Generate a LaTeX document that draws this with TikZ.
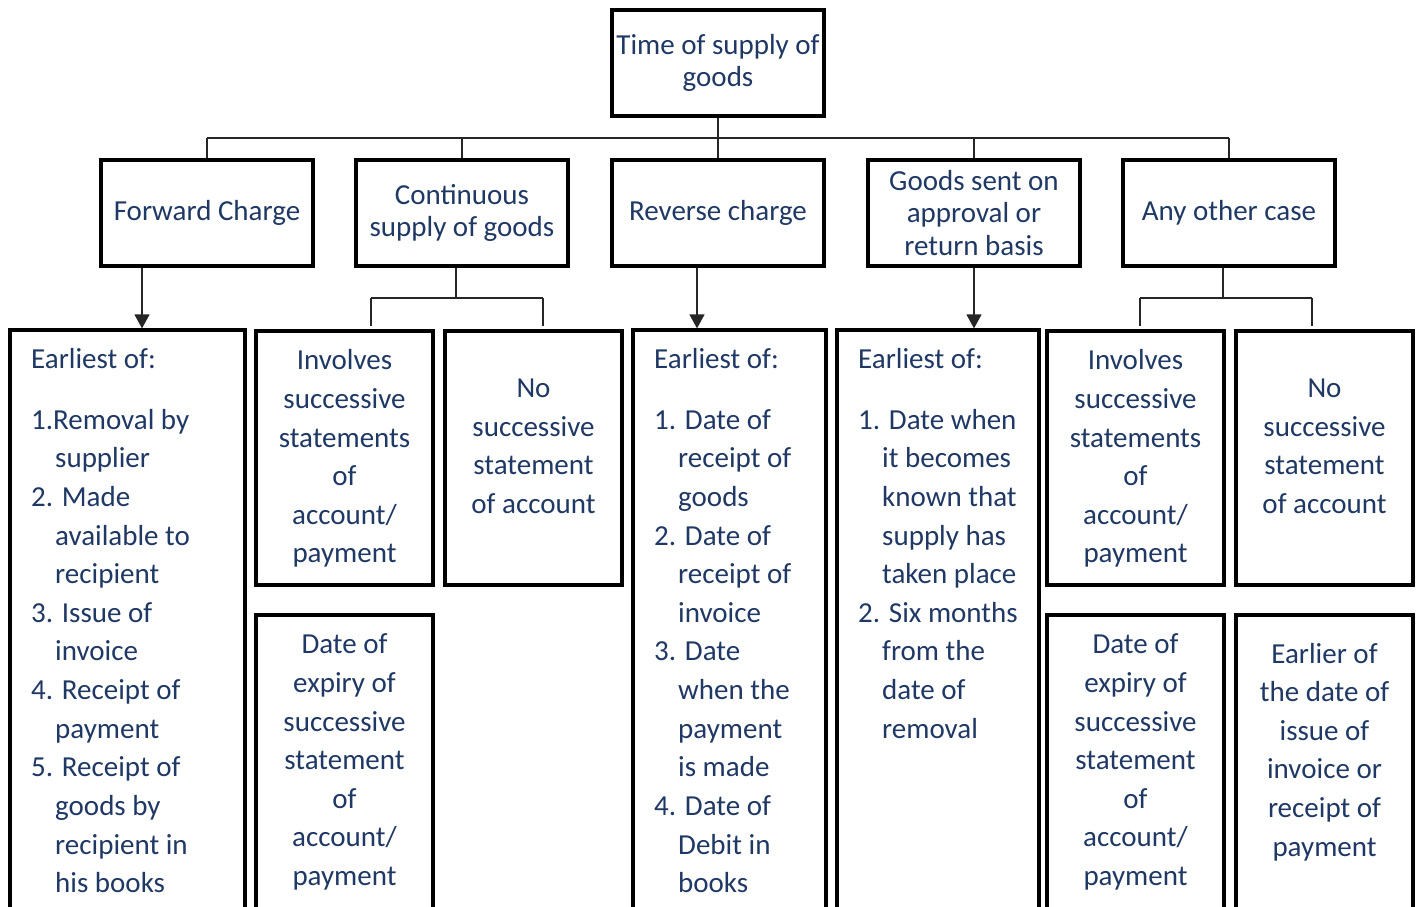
\documentclass[tikz,border=0pt]{standalone}
\usepackage{fontspec}
\setmainfont{Carlito}
\usetikzlibrary{arrows.meta}
\definecolor{navy}{RGB}{31,56,100}
\newcommand\contline{\hspace*{24pt}}

\begin{document}
\begin{tikzpicture}[x=1pt,y=-1pt,
  box/.style={draw=black, line width=3.2pt, inner sep=0pt},
  headbox/.style={box, minimum width=212pt, minimum height=106pt, align=center,
    text=navy, font=\fontsize{29}{32.5}\selectfont},
  conn/.style={draw=black!85, line width=1.3pt},
  arr/.style={conn, -{Triangle[length=14pt,width=15pt]}},
  body/.style={inner sep=0pt, text=navy, font=\fontsize{29}{38.65}\selectfont},
  listbox/.style={box, minimum height=600pt},
  smallbox/.style={box, minimum width=177pt},
]
\useasboundingbox (0,0) rectangle (1421,906);
\fill[white] (0,0) rectangle (1421,906);
\clip (0,0) rectangle (1421,906);

% ---- root and first level ----
\node[headbox] (root) at (718,63)   {Time of supply of\\goods};
\node[headbox] (fwd)  at (207,213)  {Forward Charge};
\node[headbox] (cont) at (462,213)  {Continuous\\supply of goods};
\node[headbox] (rev)  at (718,213)  {Reverse charge};
\node[headbox] (appr) at (974,213)  {Goods sent on\\approval or\\return basis};
\node[headbox] (any)  at (1229,213) {Any other case};

% ---- second level boxes ----
\node[listbox, minimum width=235pt] (listF) at (127.5,630) {};
\node[smallbox, minimum height=254pt] (invC) at (344.5,458) {};
\node[smallbox, minimum height=254pt] (noC)  at (533.5,458) {};
\node[smallbox, minimum height=315pt] (expC) at (344.5,772.5) {};
\node[listbox, minimum width=193pt] (listR) at (729.5,630) {};
\node[listbox, minimum width=202pt] (listA) at (938,630) {};
\node[smallbox, minimum height=254pt] (invO) at (1135.5,458) {};
\node[smallbox, minimum height=254pt] (noO)  at (1324.5,458) {};
\node[smallbox, minimum height=315pt] (expO) at (1135.5,772.5) {};
\node[smallbox, minimum height=315pt] (earO) at (1324.5,772.5) {};

% ---- connectors from the root ----
\coordinate (busL) at (207,138);
\coordinate (busR) at (1229,138);
\draw[conn] (busL) -- (busR);
\draw[conn] (root.south) -- (rev.north);
\draw[conn] (busL) -- (fwd.north);
\draw[conn] (cont.north |- busL) -- (cont.north);
\draw[conn] (appr.north |- busL) -- (appr.north);
\draw[conn] (busR) -- (any.north);

% ---- arrows into the lists ----
\coordinate (fa) at (142,266);
\coordinate (ra) at (697,266);
\coordinate (aa) at (974,266);
\draw[arr] (fa |- fwd.south) -- (fa |- listF.north);
\draw[arr] (ra |- rev.south) -- (ra |- listR.north);
\draw[arr] (aa |- appr.south) -- (aa |- listA.north);

% ---- split under continuous supply ----
\coordinate (cj) at (456,298);
\coordinate (cl) at (371,298);
\coordinate (cr) at (543,298);
\draw[conn] (cj |- cont.south) -- (cj);
\draw[conn] (cl) -- (cr);
\draw[conn] (cl) -- ([yshift=3pt]cl |- invC.north);
\draw[conn, line width=1.8pt] (cr) -- ([yshift=3pt]cr |- noC.north);

% ---- split under any other case ----
\coordinate (oj) at (1223,298);
\coordinate (ol) at (1140,298);
\coordinate (or) at (1312,298);
\draw[conn] (oj |- any.south) -- (oj);
\draw[conn] (ol) -- (or);
\draw[conn] (ol) -- ([yshift=3pt]ol |- invO.north);
\draw[conn] (or) -- ([yshift=3pt]or |- noO.north);

% ---- texts of the lists ----
\node[body, anchor=base west] (tF) at (31,368.6) {\begin{minipage}[t]{210pt}
Earliest of:\\[21.8pt]
1.Removal by\\
\contline supplier\\
2. Made\\
\contline available to\\
\contline recipient\\
3. Issue of\\
\contline invoice\\
4. Receipt of\\
\contline payment\\
5. Receipt of\\
\contline goods by\\
\contline recipient in\\
\contline his books\end{minipage}};

\node[body, anchor=base west] (tR) at (654,368.6) {\begin{minipage}[t]{170pt}
Earliest of:\\[21.8pt]
1. Date of\\
\contline receipt of\\
\contline goods\\
2. Date of\\
\contline receipt of\\
\contline invoice\\
3. Date\\
\contline when the\\
\contline payment\\
\contline is made\\
4. Date of\\
\contline Debit in\\
\contline books\end{minipage}};

\node[body, anchor=base west] (tA) at (858,368.6) {\begin{minipage}[t]{180pt}
Earliest of:\\[21.8pt]
1. Date when\\
\contline it becomes\\
\contline known that\\
\contline supply has\\
\contline taken place\\
2. Six months\\
\contline from the\\
\contline date of\\
\contline removal\end{minipage}};

% ---- texts of the small boxes ----
\node[body, anchor=base] (tIC) at (344.5,369.7) {\begin{minipage}[t]{170pt}\centering
Involves\\successive\\statements\\of\\account/\\payment\end{minipage}};
\node[body, anchor=base] (tNC) at (533.5,397.4) {\begin{minipage}[t]{170pt}\centering
No\\successive\\statement\\of account\end{minipage}};
\node[body, anchor=base] (tEC) at (344.5,653.7) {\begin{minipage}[t]{170pt}\centering
Date of\\expiry of\\successive\\statement\\of\\account/\\payment\end{minipage}};

\node[body, anchor=base] (tIO) at (1135.5,369.7) {\begin{minipage}[t]{170pt}\centering
Involves\\successive\\statements\\of\\account/\\payment\end{minipage}};
\node[body, anchor=base] (tNO) at (1324.5,397.4) {\begin{minipage}[t]{170pt}\centering
No\\successive\\statement\\of account\end{minipage}};
\node[body, anchor=base] (tEO) at (1135.5,653.7) {\begin{minipage}[t]{170pt}\centering
Date of\\expiry of\\successive\\statement\\of\\account/\\payment\end{minipage}};
\node[body, anchor=base] (tRO) at (1324.5,663) {\begin{minipage}[t]{170pt}\centering
Earlier of\\the date of\\issue of\\invoice or\\receipt of\\payment\end{minipage}};
\end{tikzpicture}
\end{document}
